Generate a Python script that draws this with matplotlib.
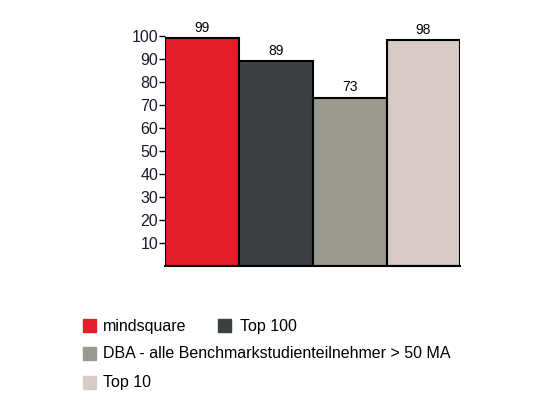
import matplotlib
matplotlib.use("Agg")
import matplotlib.pyplot as plt
from matplotlib.patches import Rectangle

categories = ["mindsquare", "Top 100", "DBA - alle Benchmarkstudienteilnehmer > 50 MA", "Top 10"]
values = [99, 89, 73, 98]
colors = ["#E31E2A", "#3C4040", "#9A9A90", "#D8CAC6"]
yticks = [10, 20, 30, 40, 50, 60, 70, 80, 90, 100]

plt.rcParams["font.family"] = ["Liberation Sans", "DejaVu Sans"]

fig = plt.figure(figsize=(5.56, 4.2), dpi=100)
ax = fig.add_axes([0.297, 0.367, 0.531, 0.548])

x = range(len(values))
ax.bar(x, values, width=1.0, color=colors, edgecolor="black", linewidth=1.5)
for i, v in enumerate(values):
    ax.text(i, v + 1.5, str(v), ha="center", va="bottom", fontsize=10)

ax.set_xlim(-0.5, len(values) - 0.5)
ax.set_ylim(0, 100)
ax.set_yticks(yticks)
ax.set_yticklabels([str(t) for t in yticks], fontsize=11.5, color="#1a1a2e")
ax.tick_params(axis="y", length=4, width=1, pad=1)
ax.set_xticks([])
for s in ["top", "right", "left"]:
    ax.spines[s].set_visible(False)
ax.spines["bottom"].set_linewidth(1.5)

# legend laid out in rows like the reference
rows = [[(0, 0.185, 0.149), (1, 0.432, 0.392)], [(2, 0.185, 0.149)], [(3, 0.185, 0.149)]]
row_y = [1 - 326 / 420, 1 - 354 / 420, 1 - 383 / 420]
for r, items in enumerate(rows):
    for idx, xt, xs in items:
        fig.patches.append(Rectangle((xs, row_y[r] - 0.015), 0.023, 0.031,
                                     transform=fig.transFigure, color=colors[idx]))
        fig.text(xt, row_y[r], categories[idx], fontsize=11.5, va="center", ha="left")

fig.savefig("out.png", dpi=100)
